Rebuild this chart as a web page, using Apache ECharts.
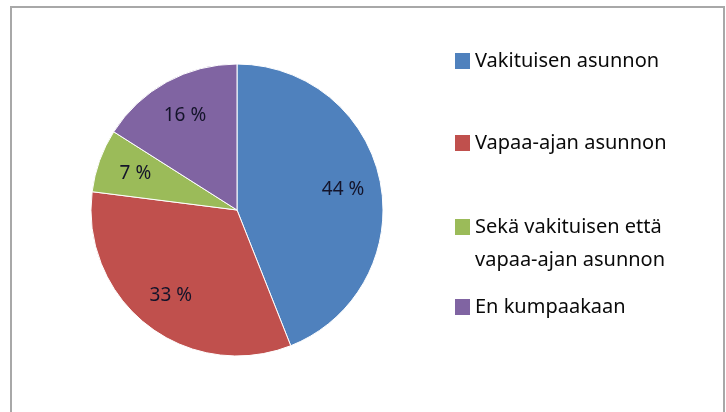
<!DOCTYPE html>
<html>
<head>
<meta charset="utf-8">
<style>
  html, body { margin: 0; padding: 0; background: #fff; }
  #chart { width: 726px; height: 412px; }
</style>
<script src="https://cdn.jsdelivr.net/npm/echarts@6/dist/echarts.min.js"></script>
</head>
<body>
<div id="chart"></div>
<script>
const categories = [
  'Vakituisen asunnon',
  'Vapaa-ajan asunnon',
  'Sekä vakituisen että\nvapaa-ajan asunnon',
  'En kumpaakaan'
];
const shares = [44, 33, 7, 16];
const colors = ['#4F81BD', '#C0504D', '#9BBB59', '#8064A2'];
// icon centre of each legend entry (first text line)
const legendCenters = [61, 143, 227, 307];

const chart = echarts.init(document.getElementById('chart'));

const font = '"Noto Sans", sans-serif';
const lineH = 33;

const data = categories.map((name, i) => ({
  name,
  value: shares[i],
  itemStyle: { color: colors[i] }
}));

// two-line entry: tall icon box with the square next to the first line
const tallIcon = 'path://M0,0h0.01M0,8.5h15v16h-15zM0,66h0.01';

const legends = categories.map((name, i) => {
  const multi = name.includes('\n');
  return {
    orient: 'vertical',
    left: 455,
    top: multi ? legendCenters[i] - lineH / 2 : legendCenters[i] - lineH / 2,
    padding: 0,
    icon: multi ? tallIcon : 'rect',
    symbolKeepAspect: false,
    itemWidth: 15,
    itemHeight: multi ? lineH * 2 : 16,
    itemGap: 0,
    selectedMode: false,
    data: [name],
    itemStyle: { borderWidth: 0 },
    textStyle: {
      fontFamily: font,
      fontSize: 20,
      color: '#0a0a0a',
      lineHeight: lineH
    }
  };
});

const option = {
  backgroundColor: '#fff',
  animation: false,
  legend: legends,
  graphic: [{
    type: 'rect',
    shape: { x: 11, y: 7, width: 713, height: 430 },
    style: { fill: 'none', stroke: '#a8a8a8', lineWidth: 2 },
    silent: true
  }],
  series: [
    {
      type: 'pie',
      center: [237, 210],
      radius: [0, 146],
      startAngle: 90,
      clockwise: true,
      data,
      label: { show: false },
      labelLine: { show: false },
      itemStyle: { borderColor: '#fff', borderWidth: 1 },
      emphasis: { disabled: true }
    },
    {
      // transparent ring that only carries the percentage labels
      type: 'pie',
      center: [237, 210],
      radius: [64, 146],
      startAngle: 90,
      clockwise: true,
      silent: true,
      legendHoverLink: false,
      data: categories.map((name, i) => ({ name: name, value: shares[i] })),
      itemStyle: { color: 'rgba(0,0,0,0)' },
      label: {
        show: true,
        position: 'inside',
        formatter: p => p.value + ' %',
        fontFamily: font,
        fontSize: 19,
        color: '#14142a'
      },
      labelLine: { show: false },
      emphasis: { disabled: true }
    }
  ]
};

chart.setOption(option);
</script>
</body>
</html>
